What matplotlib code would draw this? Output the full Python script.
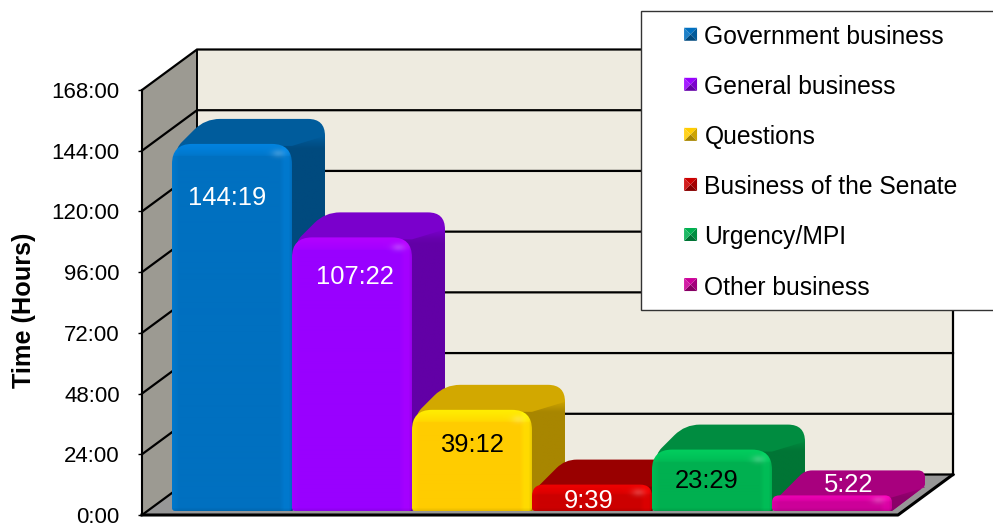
import numpy as np
import matplotlib
matplotlib.use("Agg")
import matplotlib.pyplot as plt
from matplotlib.path import Path
from matplotlib.patches import PathPatch, Polygon, Patch, Rectangle
from matplotlib.legend_handler import HandlerBase
from matplotlib.colors import to_rgb

plt.rcParams['font.family'] = ['Liberation Sans', 'DejaVu Sans']

categories = ["Government business", "General business", "Questions",
              "Business of the Senate", "Urgency/MPI", "Other business"]
hours = [144 + 19/60, 107 + 22/60, 39 + 12/60, 9 + 39/60, 23 + 29/60, 5 + 22/60]
value_labels = ["144:19", "107:22", "39:12", "9:39", "23:29", "5:22"]
tick_hours = [0, 24, 48, 72, 96, 120, 144, 168]
tick_labels = ["0:00", "24:00", "48:00", "72:00", "96:00", "120:00", "144:00", "168:00"]

front_colors = ["#0070C0", "#9900FF", "#FFCC00", "#CC0000", "#00B050", "#CC0099"]
top_colors = ["#005C9C", "#7A00CC", "#D2A800", "#990000", "#008C40", "#A8007E"]
side_colors = ["#004A7E", "#6200A6", "#A88600", "#7E0000", "#007535", "#8A0068"]
label_colors = ["white", "white", "black", "white", "black", "white"]
label_dx_px = [-5, 3, 0, -3, -5, 17]
label_y_px = [198, 277, 445, 501, 481, 485]

W, H = 993, 529
L, R, B, T = 142, 898, 515, 90
PX_X = 120.0
PX_H = (B - T) / 168.0

fig = plt.figure(figsize=(W / 100, H / 100), dpi=100, facecolor="white")
ax = fig.add_axes([L / W, 1 - B / H, (R - L) / W, (B - T) / H])
x0 = -(172 - L) / PX_X
x1 = x0 + (R - L) / PX_X
ax.set_xlim(x0, x1)
ax.set_ylim(0, 168)
ax.patch.set_visible(False)
for s in ("top", "right", "bottom"):
    ax.spines[s].set_visible(False)
ax.spines["left"].set_linewidth(1.5)
ax.set_xticks([])
ax.set_yticks(tick_hours)
ax.set_yticklabels(tick_labels, fontsize=16)
ax.tick_params(axis="y", length=3, width=1, pad=13)
ax.set_ylabel("Time (Hours)", fontsize=18.2, fontweight="bold")
ax.yaxis.set_label_coords((36 - L) / (R - L), (B - 310) / (B - T))

WDX, WDH = 55 / PX_X, 40.5 / PX_H
BDX, BDH = 33 / PX_X, 25 / PX_H
BASE = (B - 511) / PX_H
TOP_EXTRA = 6 / PX_H
UX, UH = 1 / PX_X, 1 / PX_H


def rounded(verts, radii):
    """Closed path through verts (data units) with rounded corners (radii in px)."""
    p = np.array(verts, float) * [PX_X, PX_H]
    n = len(p)
    cv, cc = [], []
    for i in range(n):
        a, b, c = p[i - 1], p[i], p[(i + 1) % n]
        r = radii[i]
        u = (a - b) / np.linalg.norm(a - b)
        v = (c - b) / np.linalg.norm(c - b)
        s, e = b + u * r, b + v * r
        cv.append(s)
        cc.append(Path.MOVETO if i == 0 else Path.LINETO)
        cv += [b, e]
        cc += [Path.CURVE3, Path.CURVE3]
    cv.append(cv[0])
    cc.append(Path.CLOSEPOLY)
    return Path(np.array(cv) / [PX_X, PX_H], cc)


def shade(col, f):
    c = np.array(to_rgb(col))
    return np.clip(c + (1 - c) * f, 0, 1) if f >= 0 else c * (1 + f)


def face_image(path, arr, extent, z):
    im = ax.imshow(arr, extent=extent, origin="upper", aspect="auto",
                   interpolation="bilinear", zorder=z)
    im.set_clip_path(path, ax.transData)
    im.set_clip_box(fig.bbox)


def poly(pts, **kw):
    ax.add_patch(Polygon(pts, closed=True, clip_on=False, **kw))


# ---- walls and floor ----
xb0, xb1 = x0 + WDX, x1 + WDX
poly([(xb0, WDH), (xb1, WDH), (xb1, 168 + WDH), (xb0, 168 + WDH)], fc="#EEEBE0", ec="none", zorder=1)
poly([(x0, 0), (xb0, WDH), (xb0, 168 + WDH), (x0, 168)], fc="#9C9A92", ec="none", zorder=1)
poly([(x0, 0), (x1, 0), (xb1, WDH), (xb0, WDH)], fc="#979797", ec="none", zorder=1)
for t in tick_hours:
    ax.plot([x0, xb0, xb1], [t, t + WDH, t + WDH], color="black", lw=1.6, clip_on=False, zorder=2,
            solid_joinstyle="miter")
ax.plot([xb0, xb0], [WDH, 168 + WDH], color="black", lw=1.4, clip_on=False, zorder=2)
ax.plot([xb1, xb1], [WDH, 168 + WDH], color="black", lw=1.6, clip_on=False, zorder=2)
ax.plot([x0, x1, xb1], [0, 0, WDH], color="black", lw=2.2, clip_on=False, zorder=2)

# ---- bars ----
for i, (h, fc, tc, sc) in enumerate(zip(hours, front_colors, top_colors, side_colors)):
    z = 3 + i
    l, r = float(i), float(i + 1)
    top = h + TOP_EXTRA
    hpx = (top - BASE) * PX_H
    rad = min(20, hpx * 0.45)
    # silhouette of the top and side, filled with the top colour
    tp = rounded([(l + 4 * UX, top - 4 * UH), (l + BDX, top + BDH), (r + BDX, top + BDH),
                  (r + BDX, BASE + BDH), (r, BASE), (l + 4 * UX, BASE)],
                 [rad * 0.4, min(15, rad), min(17, rad), 2, 1, 1])
    ax.add_patch(PathPatch(tp, fc=tc, ec="none", clip_on=False, zorder=z))
    # side face, fading from the top colour into the side colour
    sp = rounded([(r - 12 * UX, BASE), (r - 12 * UX, top - 2 * UH), (r, top - 2 * UH),
                  (r + BDX, top + 8 * UH), (r + BDX, BASE + BDH), (r, BASE)],
                 [0.5, 0.5, 0.5, 0.5, 2, 1])
    ny = 60
    yt, yb = top + 10 * UH, BASE
    t = np.clip(np.linspace(0, 1, ny) * (yt - yb) * PX_H / 12.0, 0, 1)[:, None, None]
    arr = (1 - t) * np.array(to_rgb(tc))[None, None, :] + t * np.array(to_rgb(sc))[None, None, :]
    face_image(sp, arr, (r - 12 * UX, r + BDX, yb, yt), z + 0.1)
    # front face with bevelled rims
    fp = rounded([(l, BASE), (l, top), (r, top), (r, BASE)], [3, rad, rad, 3])
    nx, ny = 120, max(int(hpx), 4)
    xx = np.linspace(0, 120, nx)[None, :]
    yy = np.linspace(0, hpx, ny)[:, None]
    b = min(13, hpx * 0.4)
    gain = 0.16 * np.clip(1 - yy / b, 0, 1) ** 0.5 * np.ones_like(xx)
    gain = gain + 0.06 * np.clip(1 - xx / 7, 0, 1)
    gain = gain + 0.07 * np.clip((xx - 108) / 5, 0, 1)
    white = 0.20 * np.exp(-(((xx - 107) / 7) ** 2 + ((yy - b * 0.75) / 4) ** 2))
    dark = 0.08 * np.clip((xx - 117) / 3, 0, 1) + 0.08 * np.clip((yy - (hpx - 3)) / 3, 0, 1)
    c = np.array(to_rgb(fc))[None, None, :]
    arr = np.clip(c * (1 + gain[..., None]) + 0.03 * gain[..., None], 0, 1)
    arr = arr + (1 - arr) * white[..., None]
    arr = np.clip(arr * (1 - dark[..., None]), 0, 1)
    face_image(fp, arr, (l, r, BASE, top), z + 0.2)
    ax.text((l + r) / 2 + label_dx_px[i] * UX, (B - label_y_px[i]) * UH, value_labels[i],
            ha="center", va="center", fontsize=18.4, color=label_colors[i], zorder=20, clip_on=False)

ax.set_xlim(x0, x1)
ax.set_ylim(0, 168)


# ---- legend ----
class PyramidHandler(HandlerBase):
    def create_artists(self, legend, orig, xd, yd, width, height, fontsize, trans):
        s = 13 * 0.72
        x = -xd + width - s
        y = -yd + height / 2 - s / 2 + 1
        c = (x + s / 2, y + s / 2)
        col = orig.get_facecolor()
        pts = [(x, y), (x + s, y), (x + s, y + s), (x, y + s)]
        fs = [-0.35, -0.2, 0.0, 0.12]
        return [Polygon([pts[k], pts[(k + 1) % 4], c], closed=True,
                        fc=shade(col[:3], fs[k]), ec="none", transform=trans) for k in range(4)]


ax.add_patch(Rectangle((641 / W, 1 - 310 / H), 360 / W, 299 / H, transform=fig.transFigure,
                       fc="white", ec="#333333", lw=1.0, clip_on=False, zorder=29))
handles = [Patch(fc=c) for c in front_colors]
leg = ax.legend(handles, categories, fontsize=17.7, frameon=False,
                bbox_to_anchor=(641 / W, 1 - 10.5 / H), bbox_transform=fig.transFigure,
                loc="upper left", borderaxespad=0,
                labelspacing=1.06, handlelength=1.68, handletextpad=0.3,
                borderpad=0.6, handler_map={Patch: PyramidHandler()})
leg.set_zorder(30)

fig.savefig("out.png", dpi=100)
